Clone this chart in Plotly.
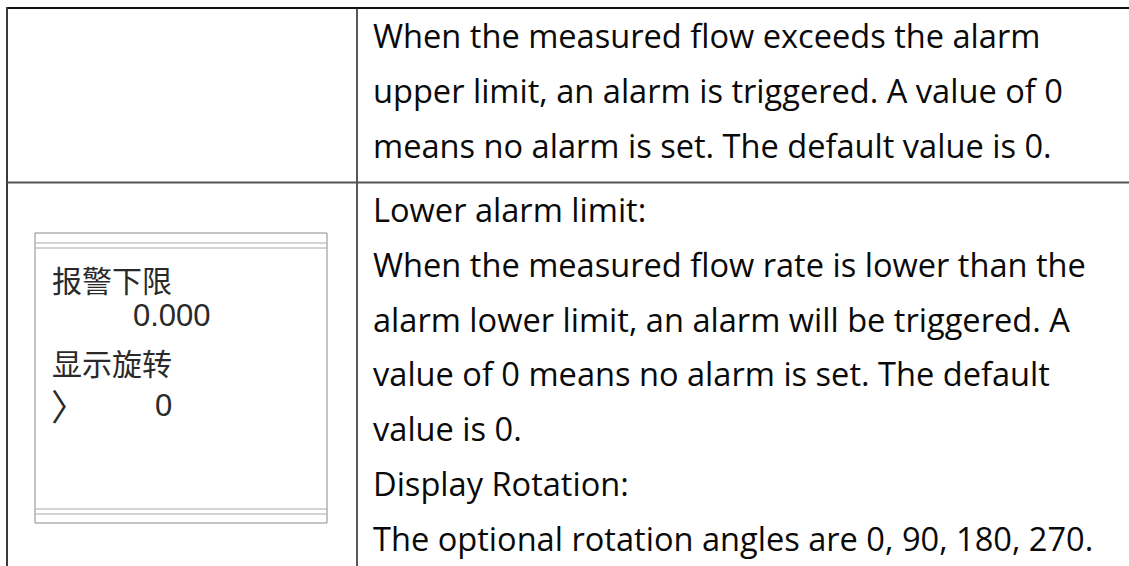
import plotly.graph_objects as go

W, H = 1129, 566

# ---- content ----
top_cell_lines = [
    "When the measured flow exceeds the alarm",
    "upper limit, an alarm is triggered. A value of 0",
    "means no alarm is set. The default value is 0.",
]
bottom_cell_lines = [
    "Lower alarm limit:",
    "When the measured flow rate is lower than the",
    "alarm lower limit, an alarm will be triggered. A",
    "value of 0 means no alarm is set. The default",
    "value is 0.",
    "Display Rotation:",
    "The optional rotation angles are 0, 90, 180, 270.",
]
lcd_label_1 = "报警下限"
lcd_value_1 = "0.000"
lcd_label_2 = "显示旋转"
lcd_cursor = "〉"
lcd_value_2 = "0"

# ---- layout constants ----
TEXT_X = 371
LINE_GAP = 54.8
TOP_BASE0 = 48.4
BOT_BASE0 = 222.0
CAP_OFF = 12.5
FONT_EN = "Open Sans"
EN_SIZE = 32.6

fig = go.Figure()
fig.add_trace(go.Scatter(x=[0, W], y=[0, H], mode="markers",
                         marker=dict(opacity=0), hoverinfo="skip", showlegend=False))

shapes = []
# table lines
shapes.append(dict(type="line", x0=6, x1=W + 5, y0=8, y1=8, line=dict(color="#111111", width=2)))
shapes.append(dict(type="line", x0=7, x1=7, y0=7, y1=H + 5, line=dict(color="#3a3a3a", width=2)))
shapes.append(dict(type="line", x0=357, x1=357, y0=8, y1=H + 5, line=dict(color="#222222", width=1.5)))
shapes.append(dict(type="line", x0=7, x1=W + 5, y0=182.5, y1=182.5, line=dict(color="#555555", width=2)))

# LCD box
gray = "#8a8a8a"
shapes.append(dict(type="rect", x0=35, x1=327, y0=233, y1=523, line=dict(color=gray, width=1)))
for yy in (243, 248, 509, 514):
    shapes.append(dict(type="line", x0=35, x1=327, y0=yy, y1=yy, line=dict(color="#a8a8a8", width=1)))

annotations = []
for i, t in enumerate(top_cell_lines):
    annotations.append(dict(x=TEXT_X, y=TOP_BASE0 + i * LINE_GAP - CAP_OFF, text=t,
                            xanchor="left", yanchor="middle", showarrow=False,
                            font=dict(family=FONT_EN, size=EN_SIZE, color="#0a0a0a")))
for i, t in enumerate(bottom_cell_lines):
    annotations.append(dict(x=TEXT_X, y=BOT_BASE0 + i * LINE_GAP - CAP_OFF, text=t,
                            xanchor="left", yanchor="middle", showarrow=False,
                            font=dict(family=FONT_EN, size=EN_SIZE, color="#0a0a0a")))

CJK = "Noto Sans CJK SC"
lcd_col = "#2a2a2a"
annotations += [
    dict(x=50, y=279, text=lcd_label_1, xanchor="left", yanchor="middle", showarrow=False,
         font=dict(family=CJK, size=30, color=lcd_col)),
    dict(x=213, y=315, text=lcd_value_1, xanchor="right", yanchor="middle", showarrow=False,
         font=dict(family="Liberation Sans", size=31, color=lcd_col)),
    dict(x=50, y=362, text=lcd_label_2, xanchor="left", yanchor="middle", showarrow=False,
         font=dict(family=CJK, size=30, color=lcd_col)),
    dict(x=49, y=405, text=lcd_cursor, xanchor="left", yanchor="middle", showarrow=False,
         font=dict(family=CJK, size=36, color=lcd_col)),
    dict(x=174, y=405, text=lcd_value_2, xanchor="right", yanchor="middle", showarrow=False,
         font=dict(family="Liberation Sans", size=31, color=lcd_col)),
]

fig.update_layout(
    width=W, height=H,
    margin=dict(l=0, r=0, t=0, b=0),
    paper_bgcolor="white", plot_bgcolor="white",
    xaxis=dict(range=[0, W], visible=False, fixedrange=True),
    yaxis=dict(range=[H, 0], visible=False, fixedrange=True),
    shapes=shapes, annotations=annotations, showlegend=False,
)
fig.write_html("out.html", config={"displayModeBar": False},
               post_script="document.body.style.margin='0';document.body.style.overflow='hidden';")
